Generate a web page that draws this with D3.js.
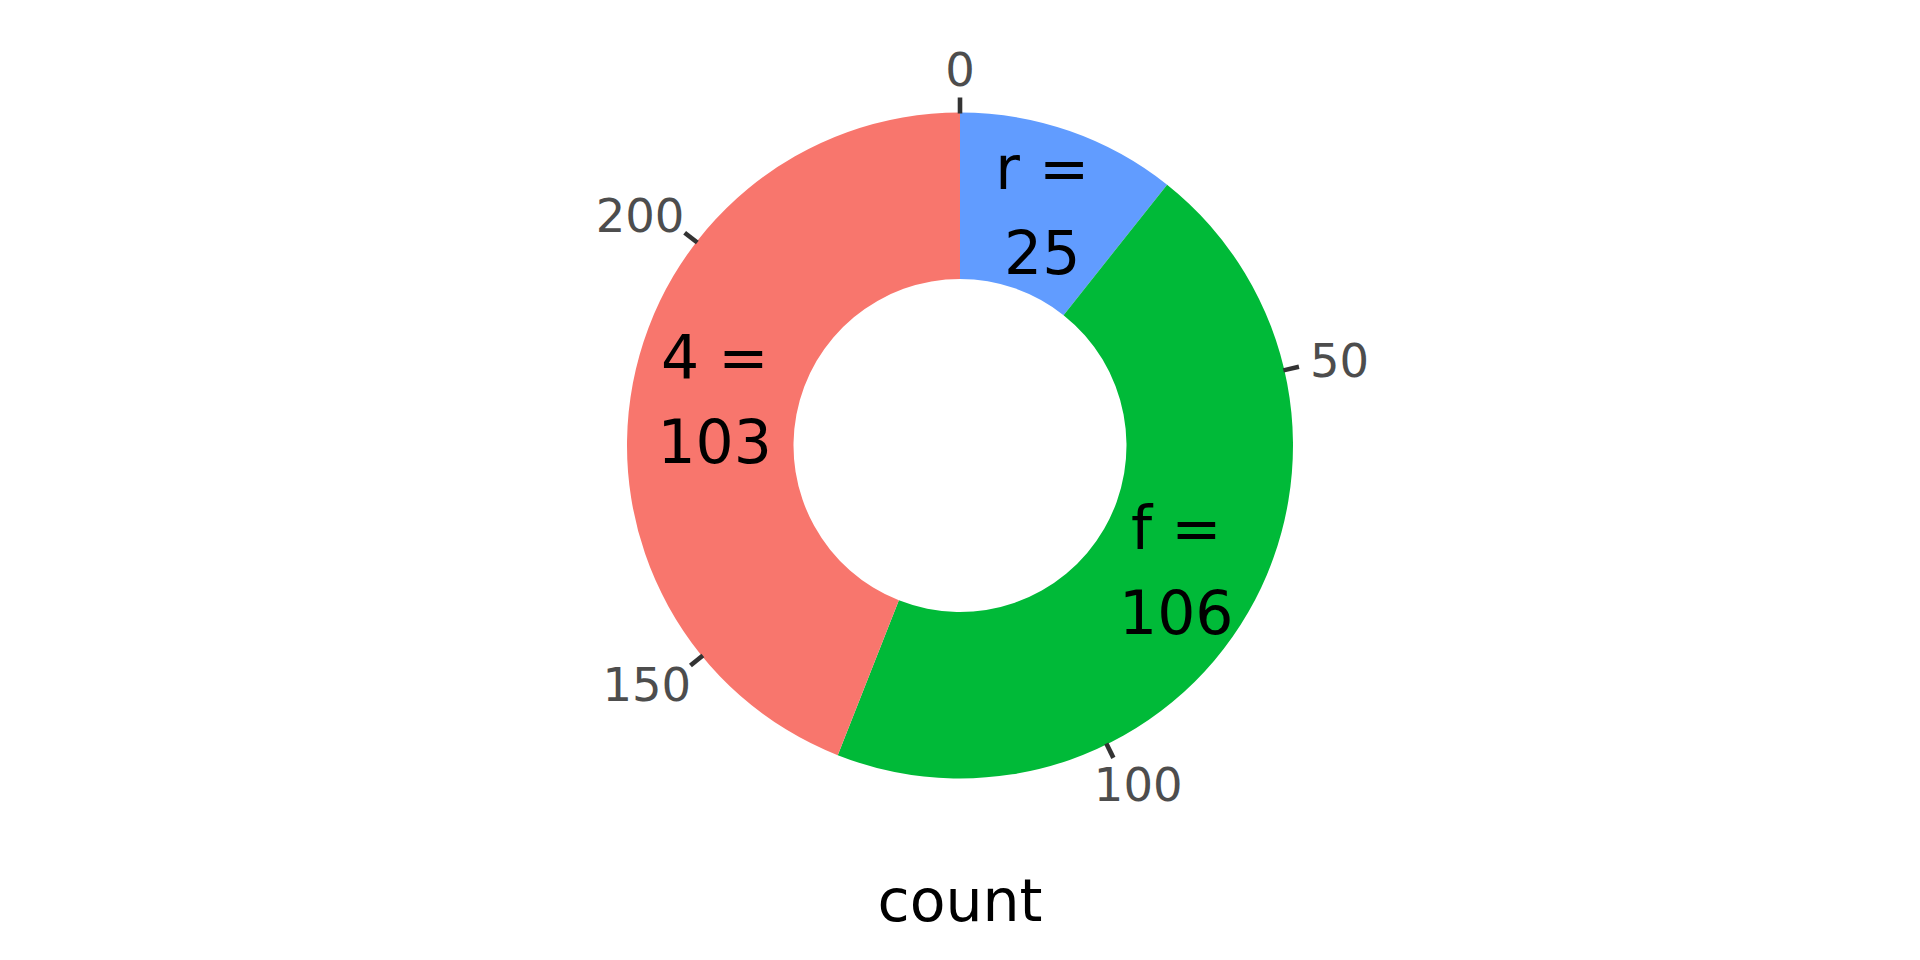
<!DOCTYPE html>
<html><head><meta charset="utf-8">
<script src="https://cdn.jsdelivr.net/npm/d3@7"></script>
<style>body{margin:0;background:#fff}</style></head><body>
<svg id="c" width="1920" height="960"></svg>
<script>
const categories = ["r", "f", "4"];
const counts = [25, 106, 103];
const colors = ["#619CFF", "#00BA38", "#F8766D"];
const tickValues = [0, 50, 100, 150, 200];
const axisTitle = "count";

const cx = 960, cy = 445.5, R = 333, R0 = 166.5;
const FONT = "DejaVu Sans, sans-serif";
const total = d3.sum(counts);
const theta = d3.scaleLinear().domain([0, total]).range([0, 2 * Math.PI]);
const radial = d3.scaleLinear().domain([0, 1]).range([R0, R]);

const svg = d3.select("#c");
const g = svg.append("g").attr("transform", `translate(${cx},${cy})`);

let cum = 0;
const segs = counts.map((v, i) => { const s = { cat: categories[i], v, start: cum, end: cum + v, color: colors[i] }; cum += v; return s; });

const arc = d3.arc().innerRadius(radial(0)).outerRadius(radial(1));
g.selectAll("path.seg").data(segs).join("path")
  .attr("class", "seg")
  .attr("d", d => arc({ startAngle: theta(d.start), endAngle: theta(d.end) }))
  .attr("fill", d => d.color);

// segment labels
const lbl = g.selectAll("g.lbl").data(segs).join("g").attr("class", "lbl")
  .attr("transform", d => { const a = theta((d.start + d.end) / 2), r = radial(0.5); return `translate(${Math.sin(a) * r},${-Math.cos(a) * r})`; });
lbl.append("text").attr("text-anchor", "middle").attr("y", -21)
  .style("font-family", FONT).style("font-size", "60px").attr("fill", "#000")
  .text(d => d.cat + " =");
lbl.append("text").attr("text-anchor", "middle").attr("y", 64)
  .style("font-family", FONT).style("font-size", "60px").attr("fill", "#000")
  .text(d => d.v);

// ticks
g.selectAll("line.tick").data(tickValues).join("line").attr("class", "tick")
  .attr("x1", d => Math.sin(theta(d)) * (R - 1)).attr("y1", d => -Math.cos(theta(d)) * (R - 1))
  .attr("x2", d => Math.sin(theta(d)) * (R + 15)).attr("y2", d => -Math.cos(theta(d)) * (R + 15))
  .attr("stroke", "#333333").attr("stroke-width", 4.6);

const tfs = 46.5, RL = 360;
g.selectAll("text.tl").data(tickValues).join("text").attr("class", "tl")
  .style("font-family", FONT).style("font-size", tfs + "px").attr("fill", "#4D4D4D")
  .text(d => d)
  .each(function (d) {
    const a = theta(d);
    const px = Math.sin(a) * RL, py = -Math.cos(a) * RL;
    const hj = 0.5 - Math.sin(a) / 2, vj = 0.5 - Math.cos(a) / 2;
    const w = this.getComputedTextLength(), h = 0.729 * tfs;
    d3.select(this).attr("x", px - hj * w).attr("y", py + vj * h);
  });

svg.append("text").attr("x", 960).attr("y", 921).attr("text-anchor", "middle")
  .style("font-family", FONT).style("font-size", "58.5px").attr("fill", "#000")
  .text(axisTitle);
</script>
</body></html>
